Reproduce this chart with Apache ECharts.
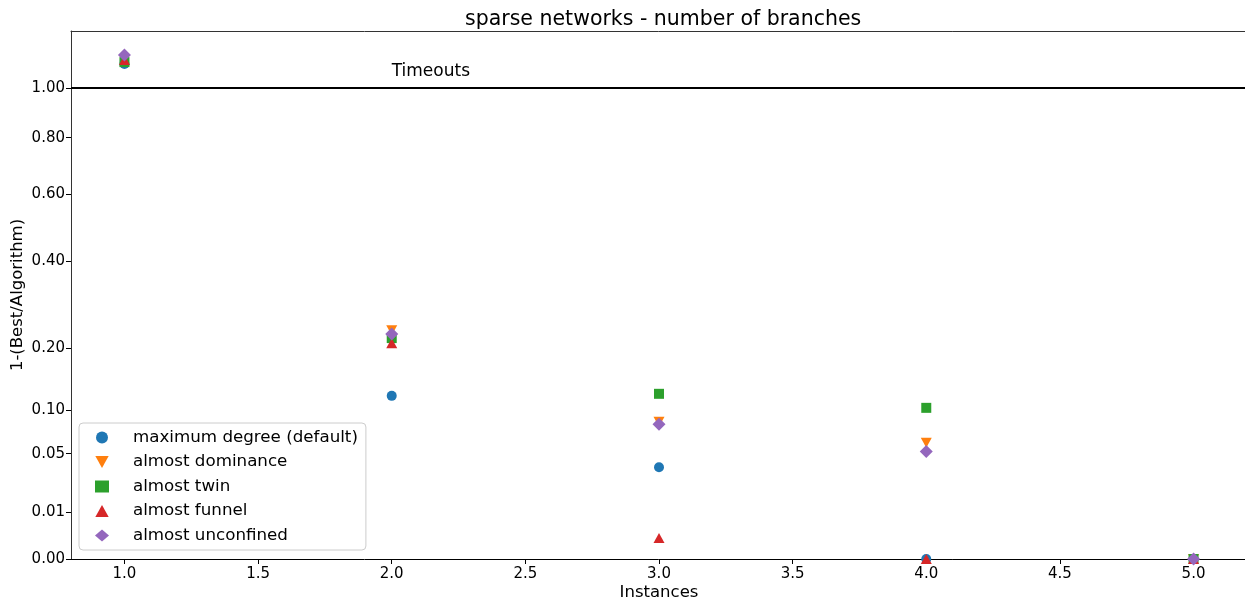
<!DOCTYPE html>
<html>
<head>
<meta charset="utf-8">
<script src="https://cdn.jsdelivr.net/npm/echarts@6/dist/echarts.min.js"></script>
<style>
  html, body { margin: 0; padding: 0; background: #fff; }
  #chart { width: 1245px; height: 601px; }
</style>
</head>
<body>
<div id="chart"></div>
<script>
// Instances on the x axis
const instances = [1, 2, 3, 4, 5];

// 1-(Best/Algorithm) per branching rule (values above 1 are timeouts)
const maxDegree   = [1.105, 0.120, 0.038, 0.000, 0.000];
const dominance   = [1.122, 0.236, 0.085, 0.061, 0.000];
const twin        = [1.113, 0.220, 0.123, 0.103, 0.000];
const funnel      = [1.122, 0.210, 0.002, 0.000, 0.000];
const unconfined  = [1.145, 0.228, 0.082, 0.052, 0.000];

const seriesNames = [
  'maximum degree (default)',
  'almost dominance',
  'almost twin',
  'almost funnel',
  'almost unconfined'
];

// Tick labels of the square-root y axis and of the x axis
const yTicks = [0.00, 0.01, 0.05, 0.10, 0.20, 0.40, 0.60, 0.80, 1.00];
const xTicks = [1.0, 1.5, 2.0, 2.5, 3.0, 3.5, 4.0, 4.5, 5.0];

const timeoutLevel = 1.0;
const yTop = 1.2567;

const FONT = 'DejaVu Sans';
const colors = ['#1f77b4', '#ff7f0e', '#2ca02c', '#d62728', '#9467bd'];
const triangleDown = 'path://M0,0 L10,0 L5,9 Z';
const triangleUp = 'path://M5,0 L10,9 L0,9 Z';
const symbols = ['circle', triangleDown, 'rect', triangleUp, 'diamond'];
const symbolSizes = [10, [11, 10], 10, [11, 10], 13];

// y axis uses a square-root scale: plot sqrt(value)
const sq = v => Math.sqrt(v);

const allValues = [maxDegree, dominance, twin, funnel, unconfined];

const series = allValues.map((vals, i) => ({
  name: seriesNames[i],
  type: 'scatter',
  symbol: symbols[i],
  symbolSize: symbolSizes[i],
  itemStyle: { color: colors[i], opacity: 1 },
  z: 3 + i,
  data: instances.map((x, k) => [x, sq(vals[k])])
}));

// Timeout line and its caption
series.push({
  type: 'scatter',
  name: '_timeouts',
  data: [],
  silent: true,
  markLine: {
    silent: true,
    symbol: 'none',
    label: { show: false },
    lineStyle: { color: '#000', width: 2, type: 'solid' },
    data: [{ yAxis: sq(timeoutLevel) }]
  },
  markPoint: {
    silent: true,
    symbol: 'circle',
    symbolSize: 0,
    label: {
      show: true,
      position: 'right',
      distance: 0,
      formatter: 'Timeouts',
      color: '#000',
      fontFamily: FONT,
      fontSize: 17
    },
    data: [{ coord: [2.0, sq(1.07)] }]
  }
});

const chart = echarts.init(document.getElementById('chart'), null, { renderer: 'canvas' });

chart.setOption({
  animation: false,
  backgroundColor: '#fff',
  title: {
    text: 'sparse networks - number of branches',
    left: 460,
    top: 4,
    textStyle: { fontFamily: FONT, fontSize: 20.5, fontWeight: 'normal', color: '#000' }
  },
  grid: { left: 71, right: -2, top: 31, bottom: 42, containLabel: false, outerBoundsMode: 'none' },
  legend: {
    orient: 'vertical',
    left: 79,
    top: 423,
    data: seriesNames,
    itemWidth: 14,
    itemHeight: 12,
    itemGap: 7.5,
    padding: [6, 8, 6, 16],
    borderColor: '#cccccc',
    borderWidth: 1,
    borderRadius: 4,
    backgroundColor: 'rgba(255,255,255,0.85)',
    textStyle: { fontFamily: FONT, fontSize: 16.7, lineHeight: 17, color: '#000', padding: [0, 0, 0, 19] }
  },
  xAxis: [{
    type: 'value',
    min: 0.8,
    max: 5.2,
    name: 'Instances',
    nameLocation: 'middle',
    nameGap: 25,
    nameMoveOverlap: false,
    nameTextStyle: { fontFamily: FONT, fontSize: 16.5, color: '#000' },
    axisLine: { show: true, lineStyle: { color: '#000', width: 1 } },
    axisTick: { show: true, length: 5, customValues: xTicks, lineStyle: { color: '#000' } },
    axisLabel: {
      customValues: xTicks,
      formatter: v => v.toFixed(1),
      fontFamily: FONT, fontSize: 15, color: '#000', margin: 8
    },
    splitLine: { show: false }
  }, {
    type: 'value',
    position: 'top',
    min: 0.8,
    max: 5.2,
    axisLine: { show: true, onZero: false, lineStyle: { color: '#333', width: 1 } },
    axisTick: { show: false },
    axisLabel: { show: false },
    splitLine: { show: false }
  }],
  yAxis: {
    type: 'value',
    min: 0,
    max: sq(yTop),
    name: '1-(Best/Algorithm)',
    nameLocation: 'middle',
    nameGap: 45,
    nameMoveOverlap: false,
    nameTextStyle: { fontFamily: FONT, fontSize: 16.5, color: '#000' },
    axisLine: { show: true, onZero: false, lineStyle: { color: '#333', width: 1 } },
    axisTick: { show: true, length: 5, customValues: yTicks.map(sq), lineStyle: { color: '#000' } },
    axisLabel: {
      customValues: yTicks.map(sq),
      formatter: v => (v * v).toFixed(2),
      fontFamily: FONT, fontSize: 15, color: '#000', margin: 6
    },
    splitLine: { show: false }
  },
  series: series
});
</script>
</body>
</html>
